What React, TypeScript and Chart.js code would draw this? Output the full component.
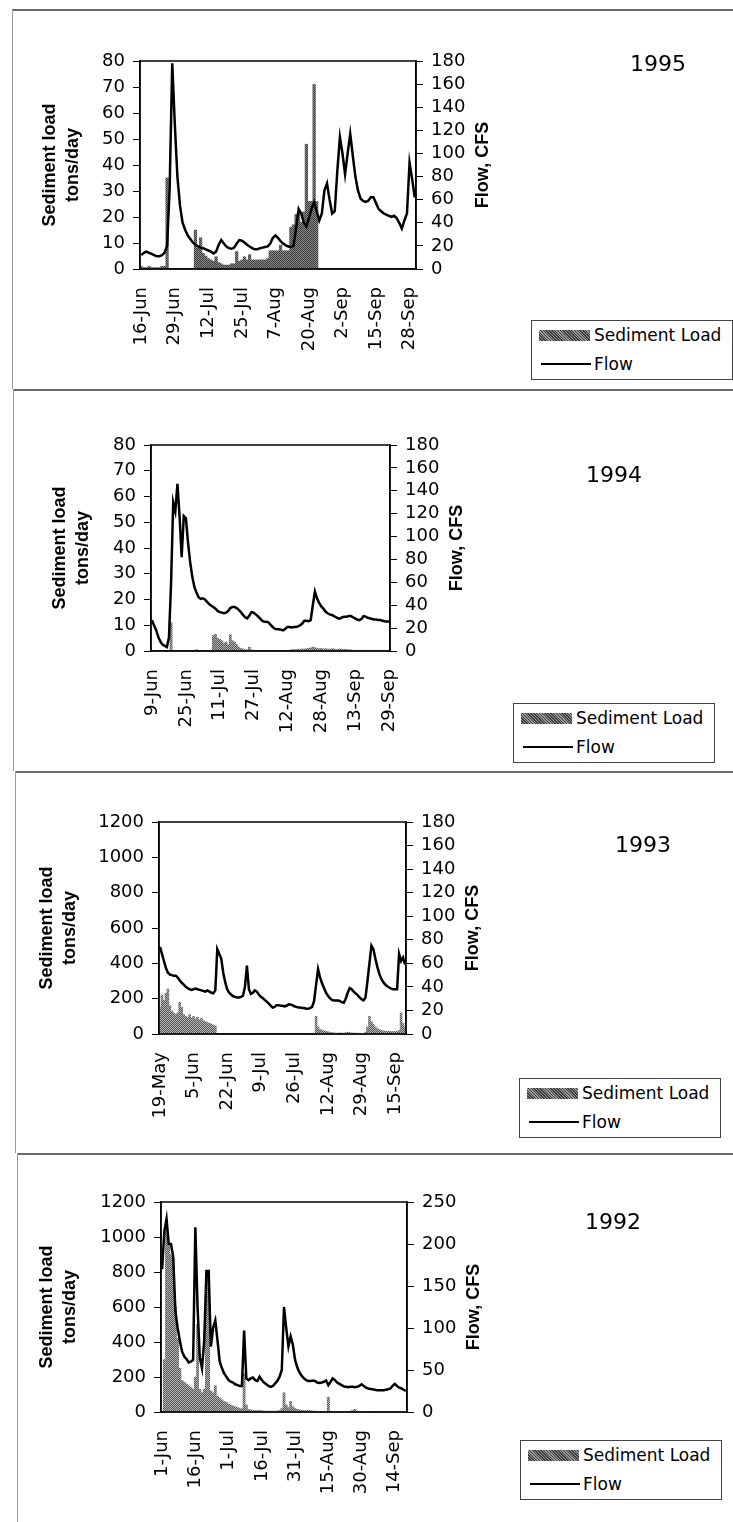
import React, { useEffect, useRef } from 'react';
import { Chart, registerables } from 'chart.js';

Chart.register(...registerables);

// ---------------- DATA ----------------
const FLOW_1995 = [12, 14, 15, 14, 13, 12, 11, 11, 12, 14,
  20, 70, 178, 125, 80, 55, 40, 34, 29, 26,
  23, 21, 19.5, 18.5, 18, 17, 16, 15, 13.5, 15,
  21, 25, 22, 19.5, 18, 17.5, 18.5, 22, 25, 24.5,
  23, 21, 19.5, 18, 17, 17, 18, 18.5, 19, 19.5,
  22, 27, 29, 27, 24, 22, 20.5, 19.5, 19, 20,
  35, 52, 48, 40, 37, 44, 52, 58, 50, 42,
  48, 68, 74, 60, 48, 50, 85, 114, 100, 82,
  100, 117, 98, 80, 68, 61, 59, 58, 59, 62,
  62, 57, 52, 50, 48, 47, 46, 45, 46, 44,
  40, 35, 42, 48, 92, 78, 62];
const SED_1995 = [1, 0.5, 0.5, 1, 0.5, 0.5, 0.5, 0.5, 1, 1,
  35, 0, 0, 0, 0, 0, 0, 0, 0, 0,
  0, 15, 8, 12, 6, 5, 4, 3.5, 3, 4.7,
  2.5, 2, 1.5, 1.5, 1.5, 2, 2, 6.7, 3, 3.5,
  4.7, 3.5, 5.5, 3.5, 3.5, 3.5, 3.5, 3.5, 3.5, 4,
  7, 7, 7, 7, 9.2, 7, 7, 7, 16, 17,
  21, 22, 18, 22, 48, 26, 26, 71, 26, 0,
  0, 0, 0, 0, 0, 0, 0, 0, 0, 0,
  0, 0, 0, 0, 0, 0, 0, 0, 0, 0,
  0, 0, 0, 0, 0, 0, 0, 0, 0, 0,
  0, 0, 0, 0, 0, 0, 0];
const TICKS_1995 = ['16-Jun', '29-Jun', '12-Jul', '25-Jul', '7-Aug', '20-Aug', '2-Sep', '15-Sep', '28-Sep'];

const FLOW_1994 = [27, 22, 18, 12, 8, 5.5, 4.5, 3.5, 12, 60,
  130, 122, 146, 118, 82, 118, 116, 95, 78, 65,
  56, 51, 47, 45.5, 46, 45, 43, 41, 39.5, 38.5,
  37, 35, 34, 33.5, 33, 33.5, 35, 37.5, 38.5, 38.5,
  37.5, 36, 34, 31.5, 29.5, 28.5, 31, 34, 33.5, 32,
  30.5, 28.5, 26.5, 25.5, 25.5, 25, 23, 21, 19.5, 19,
  19, 18.5, 18, 19.5, 21, 21, 20.5, 21, 21, 21.5,
  22.5, 24, 26.5, 26.5, 26, 27, 40, 52, 46, 42,
  39, 37, 34.5, 33, 32, 31.5, 30.5, 29.5, 28.5, 28.5,
  29.5, 30, 30, 30.5, 30.5, 29.5, 28.5, 27.5, 27, 28,
  30.5, 30, 29, 28.5, 28, 27.5, 27.5, 27, 27, 26.5,
  26, 25.5, 26];
const SED_1994 = [0, 0, 0, 0, 0, 0, 0, 0, 0, 11,
  0, 0, 0, 0, 0, 0, 0, 0, 0, 0,
  0, 0.5, 0, 0, 0, 0, 0, 0, 0, 6,
  6.5, 5, 4.5, 4, 3, 3.5, 2.5, 6.3, 4, 3.5,
  2.5, 1.5, 1, 0.8, 0.5, 0.5, 1.5, 0.5, 0.3, 0,
  0, 0, 0, 0, 0, 0, 0, 0, 0, 0,
  0, 0, 0, 0, 0, 0, 0.5, 0.6, 0.5, 0.7,
  0.6, 0.8, 0.7, 0.9, 1, 1.2, 1.5, 1.3, 1, 0.9,
  1, 0.8, 0.9, 0.8, 0.7, 0.9, 0.8, 0.6, 0.7, 0.8,
  0.6, 0.7, 0.6, 0.5, 0.5, 0.3, 0.3, 0.3, 0.3, 0.3,
  0.3, 0.3, 0.3, 0.3, 0.3, 0.3, 0.3, 0.3, 0.3, 0.3,
  0.3, 0.3, 0.3];
const TICKS_1994 = ['9-Jun', '25-Jun', '11-Jul', '27-Jul', '12-Aug', '28-Aug', '13-Sep', '29-Sep'];

const FLOW_1993 = [74, 68, 62, 56, 52, 50.5, 50, 49.5, 49.5, 48,
  45.5, 43.5, 42, 40, 39, 38, 37.5, 38, 38.5, 38,
  37.5, 37, 36.5, 36, 37, 36, 35, 34.5, 37, 72,
  68, 64, 52, 44, 38, 35, 33.5, 32, 31.5, 31,
  31, 31.5, 32.5, 40, 58, 38, 34, 35, 37, 36,
  33.5, 31.5, 30.5, 29, 27.5, 26, 24, 22.5, 23, 24.5,
  24.5, 24, 24, 23.5, 24, 25, 25, 24.5, 23.5, 23,
  22.5, 22.5, 22, 22, 21.5, 21.5, 22, 23, 28, 42,
  55, 48, 43, 39, 35, 32.5, 30.5, 29, 28.5, 28.5,
  28.5, 28, 27, 26.5, 30, 35, 39, 38, 36, 34.5,
  33, 31, 29.5, 28.5, 31, 45, 60, 75, 72, 64,
  57, 51, 47, 44, 42, 40.5, 39.5, 38.5, 38, 38,
  38, 68, 62, 65, 59];
const SED_1993 = [150, 220, 190, 230, 255, 160, 130, 120, 110, 120,
  180, 150, 110, 100, 95, 110, 90, 100, 85, 95,
  80, 90, 75, 70, 65, 60, 55, 50, 45,
  0, 0, 0, 0, 0, 0, 0, 0, 0, 0,
  0, 0, 0, 0, 0, 0, 0, 0, 0, 0,
  0, 0, 0, 0, 0, 0, 0, 0, 0, 0,
  0, 0, 0, 0, 0, 0, 0, 0, 0, 0,
  0, 0, 0, 0, 0, 0, 0, 0,
  0, 5, 100, 40, 25, 22, 18, 15, 12, 10,
  8, 6, 5, 5, 6, 5, 5, 8, 10, 8,
  6, 5, 5, 5, 4, 4, 4, 10, 40, 100,
  70, 55, 40, 30, 25, 20, 18, 16, 15, 15,
  14, 14, 14, 14, 20, 120, 60, 40];
const TICKS_1993 = ['19-May', '5-Jun', '22-Jun', '9-Jul', '26-Jul', '12-Aug', '29-Aug', '15-Sep'];

const FLOW_1992 = [170, 215, 230, 200, 200, 185, 120, 100, 85, 72,
  66, 63, 59, 60, 62, 220, 125, 65, 52, 85,
  168, 168, 78, 100, 109, 85, 60, 52, 46, 42,
  38, 36, 35, 33, 32, 31, 31, 97, 40, 38,
  40, 41, 38, 37, 42, 38, 35, 33, 31, 30,
  31, 34, 37, 42, 50, 125, 100, 78, 90, 80,
  62, 53, 47, 43, 40, 38, 37, 37, 37.5, 37,
  35, 34.5, 35, 36, 37.5, 32, 36, 40, 38, 35,
  33.5, 32, 30.5, 30, 29.5, 30, 30, 29.5, 30, 31,
  33, 31, 29, 28, 27.5, 27, 26.5, 26, 26, 26,
  26, 26.5, 27, 28, 31, 33.5, 31, 29, 28, 26.5,
  25];
const SED_1992 = [0, 300, 1100, 950, 900, 850, 600, 420, 250, 180,
  170, 160, 150, 140, 130, 200, 500, 130, 110, 130,
  800, 810, 120, 110, 150, 90, 80, 70, 60, 55,
  45, 40, 35, 30, 25, 20, 18, 220, 40, 15,
  12, 10, 8, 8, 10, 7, 6, 5, 5, 5,
  5, 5, 6, 8, 20, 110, 40, 25, 60, 30,
  20, 15, 12, 10, 8, 8, 10, 8, 6, 5,
  5, 4, 4, 4, 4, 85, 5, 4, 4, 3,
  3, 3, 3, 3, 3, 4, 10, 15, 5, 3,
  3, 3, 3, 3, 3, 2, 2, 2, 2, 2,
  2, 2, 2, 2, 2, 2, 2, 2, 2, 2,
  2];
const TICKS_1992 = ['1-Jun', '16-Jun', '1-Jul', '16-Jul', '31-Jul', '15-Aug', '30-Aug', '14-Sep'];

const YEARS = ['1995', '1994', '1993', '1992'];
const SERIES_NAMES = ['Sediment Load', 'Flow'];
const SED_TITLE = ['Sediment load', 'tons/day'];
const FLOW_TITLE = 'Flow, CFS';
const MONTHS = ['Jan', 'Feb', 'Mar', 'Apr', 'May', 'Jun', 'Jul', 'Aug', 'Sep', 'Oct', 'Nov', 'Dec'];

function makeLabels(y: number, m: number, d: number, n: number): string[] {
  const out: string[] = [];
  for (let i = 0; i < n; i++) {
    const dt = new Date(Date.UTC(y, m, d + i));
    out.push(dt.getUTCDate() + '-' + MONTHS[dt.getUTCMonth()]);
  }
  return out;
}

// ---------------- LAYOUT ----------------
const W = 733;
const RIGHT_W = 100;

type Cfg = {
  year: string; start: [number, number, number];
  flow: number[]; sed: number[]; ticks: string[];
  sedMax: number; sedStep: number; flowMax: number; flowStep: number;
  top: number; h: number;
  area: { left: number; right: number; top: number; bottom: number };
  titlePad: number; dark: string; light: string;
  yearX: number; yearY: number;
  legend: { x: number; y: number; w: number; h: number };
  frameLeft: number;
};

const PANELS: Cfg[] = [
  {
    year: YEARS[0], start: [1995, 5, 16], flow: FLOW_1995, sed: SED_1995, ticks: TICKS_1995,
    sedMax: 80, sedStep: 10, flowMax: 180, flowStep: 20,
    top: 0, h: 389, area: { left: 140, right: 416, top: 61, bottom: 269 }, titlePad: 38,
    dark: '#3a3a3a', light: '#8a8a8a',
    yearX: 658, yearY: 64, legend: { x: 531, y: 320, w: 202, h: 60 }, frameLeft: 12,
  },
  {
    year: YEARS[1], start: [1994, 5, 9], flow: FLOW_1994, sed: SED_1994, ticks: TICKS_1994,
    sedMax: 80, sedStep: 10, flowMax: 180, flowStep: 20,
    top: 389, h: 382, area: { left: 151, right: 390, top: 445, bottom: 651 }, titlePad: 48,
    dark: '#555555', light: '#b0b0b0',
    yearX: 614, yearY: 475, legend: { x: 513, y: 703, w: 202, h: 60 }, frameLeft: 13,
  },
  {
    year: YEARS[2], start: [1993, 4, 19], flow: FLOW_1993, sed: SED_1993, ticks: TICKS_1993,
    sedMax: 1200, sedStep: 200, flowMax: 180, flowStep: 20,
    top: 771, h: 382, area: { left: 159, right: 406, top: 822, bottom: 1034 }, titlePad: 35,
    dark: '#555555', light: '#b5b5b5',
    yearX: 643, yearY: 845, legend: { x: 519, y: 1078, w: 202, h: 60 }, frameLeft: 15,
  },
  {
    year: YEARS[3], start: [1992, 5, 1], flow: FLOW_1992, sed: SED_1992, ticks: TICKS_1992,
    sedMax: 1200, sedStep: 200, flowMax: 250, flowStep: 50,
    top: 1153, h: 369, area: { left: 161, right: 407, top: 1202, bottom: 1412 }, titlePad: 35,
    dark: '#555555', light: '#b5b5b5',
    yearX: 613, yearY: 1222, legend: { x: 520, y: 1440, w: 202, h: 60 }, frameLeft: 17,
  },
];

function makePattern(dark: string, light: string): CanvasPattern | string {
  const c = document.createElement('canvas');
  c.width = 2; c.height = 2;
  const g = c.getContext('2d');
  if (!g) return dark;
  g.fillStyle = light; g.fillRect(0, 0, 2, 2);
  g.fillStyle = dark; g.fillRect(0, 0, 1, 1); g.fillRect(1, 1, 1, 1);
  return g.createPattern(c, 'repeat') || dark;
}

const TICK_FONT = { family: '"DejaVu Sans", sans-serif', size: 18 };
const plainNumber = (v: any) => String(v);

function Panel({ cfg }: { cfg: Cfg }) {
  const ref = useRef<HTMLCanvasElement | null>(null);
  useEffect(() => {
    const canvas = ref.current;
    if (!canvas) return;
    const labels = makeLabels(cfg.start[0], cfg.start[1], cfg.start[2], cfg.flow.length);
    const a = cfg.area;
    const localBottom = a.bottom - cfg.top;
    const framePlugin = {
      id: 'frameAndFlowTitle',
      afterDraw(chart: any) {
        const { ctx, chartArea: ca } = chart;
        ctx.save();
        ctx.strokeStyle = '#000';
        ctx.lineWidth = 1.5;
        ctx.strokeRect(ca.left, ca.top, ca.right - ca.left, ca.bottom - ca.top);
        ctx.font = 'bold 18px "Liberation Sans", Arial, sans-serif';
        ctx.fillStyle = '#000';
        ctx.translate(ca.right + 67, (ca.top + ca.bottom) / 2);
        ctx.rotate(-Math.PI / 2);
        ctx.textAlign = 'center';
        ctx.textBaseline = 'middle';
        ctx.fillText(FLOW_TITLE, 0, 0);
        ctx.restore();
      },
    };
    const chart = new Chart(canvas, {
      type: 'bar',
      data: {
        labels,
        datasets: [
          {
            type: 'line', label: SERIES_NAMES[1], data: cfg.flow, yAxisID: 'y1',
            borderColor: '#000', borderWidth: 2.5, pointRadius: 0, tension: 0, order: 0,
          } as any,
          {
            type: 'bar', label: SERIES_NAMES[0], data: cfg.sed, yAxisID: 'y',
            backgroundColor: makePattern(cfg.dark, cfg.light), borderWidth: 0,
            barPercentage: 1, categoryPercentage: 1, order: 1,
          } as any,
        ],
      },
      options: {
        responsive: false,
        animation: false,
        devicePixelRatio: 1,
        events: [],
        layout: { padding: { left: 0, right: W - a.right - RIGHT_W, top: a.top - cfg.top, bottom: 0 } },
        plugins: { legend: { display: false }, tooltip: { enabled: false } },
        scales: {
          x: {
            type: 'category', offset: true,
            grid: { display: false },
            border: { display: true, color: '#000', width: 1.5 },
            ticks: {
              autoSkip: false, minRotation: 90, maxRotation: 90, padding: 10,
              color: '#000', font: TICK_FONT,
              callback: (_v: any, i: number) => (cfg.ticks.includes(labels[i]) ? labels[i] : ''),
            },
            afterFit: (s: any) => { s.height = cfg.h - localBottom; },
          },
          y: {
            position: 'left', min: 0, max: cfg.sedMax,
            ticks: { stepSize: cfg.sedStep, autoSkip: false, padding: 8, color: '#000', font: TICK_FONT, callback: plainNumber },
            grid: { drawOnChartArea: false, tickLength: 7, color: '#000' },
            border: { display: true, color: '#000', width: 1.5 },
            title: {
              display: true, text: SED_TITLE, color: '#000',
              font: { family: '"Liberation Sans", Arial, sans-serif', size: 18, weight: 'bold', lineHeight: 1.3 },
              padding: { top: cfg.titlePad, bottom: 0 },
            },
            afterFit: (s: any) => { s.width = a.left; },
          },
          y1: {
            position: 'right', min: 0, max: cfg.flowMax,
            ticks: { stepSize: cfg.flowStep, autoSkip: false, padding: 8, color: '#000', font: TICK_FONT, callback: plainNumber },
            grid: { drawOnChartArea: false, tickLength: 7, color: '#000' },
            border: { display: true, color: '#000', width: 1.5 },
            afterFit: (s: any) => { s.width = RIGHT_W; },
          },
        },
      } as any,
      plugins: [framePlugin],
    });
    return () => chart.destroy();
  }, [cfg]);

  const L = cfg.legend;
  return (
    <>
      <div style={{ position: 'absolute', left: cfg.frameLeft, top: cfg.top === 0 ? 9 : cfg.top, width: W - cfg.frameLeft, height: 2, background: '#6a6a6a' }} />
      <div style={{ position: 'absolute', left: cfg.frameLeft, top: cfg.top === 0 ? 9 : cfg.top, width: 1, height: cfg.top === 0 ? cfg.h - 9 : cfg.h, background: '#9a9a9a' }} />
      <canvas ref={ref} width={W} height={cfg.h} style={{ position: 'absolute', left: 0, top: cfg.top, width: W, height: cfg.h, display: 'block' }} />
      <div style={{ position: 'absolute', left: cfg.yearX - 50, top: cfg.yearY - 14, width: 100, textAlign: 'center', font: '22px "DejaVu Sans", sans-serif', lineHeight: '28px', color: '#000' }}>{cfg.year}</div>
      <div style={{ position: 'absolute', left: L.x, top: L.y, width: L.w, height: L.h, boxSizing: 'border-box', border: '1px solid #444', background: '#fff', font: '17px "DejaVu Sans", sans-serif', color: '#000' }}>
        <div style={{ position: 'absolute', left: 7, top: 9, width: 51, height: 11, background: 'repeating-linear-gradient(45deg, #3c3c3c 0px, #3c3c3c 1px, #9a9a9a 1px, #9a9a9a 2px)' }} />
        <div style={{ position: 'absolute', left: 62, top: 3, lineHeight: '22px', whiteSpace: 'nowrap' }}>{SERIES_NAMES[0]}</div>
        <div style={{ position: 'absolute', left: 9, top: 42, width: 50, height: 2, background: '#000' }} />
        <div style={{ position: 'absolute', left: 62, top: 32, lineHeight: '22px', whiteSpace: 'nowrap' }}>{SERIES_NAMES[1]}</div>
      </div>
    </>
  );
}

export default function App() {
  return (
    <div style={{ position: 'absolute', left: 0, top: 0, width: W, height: 1522, background: '#fff', overflow: 'hidden' }}>
      {PANELS.map((p) => <Panel key={p.year} cfg={p} />)}
    </div>
  );
}
